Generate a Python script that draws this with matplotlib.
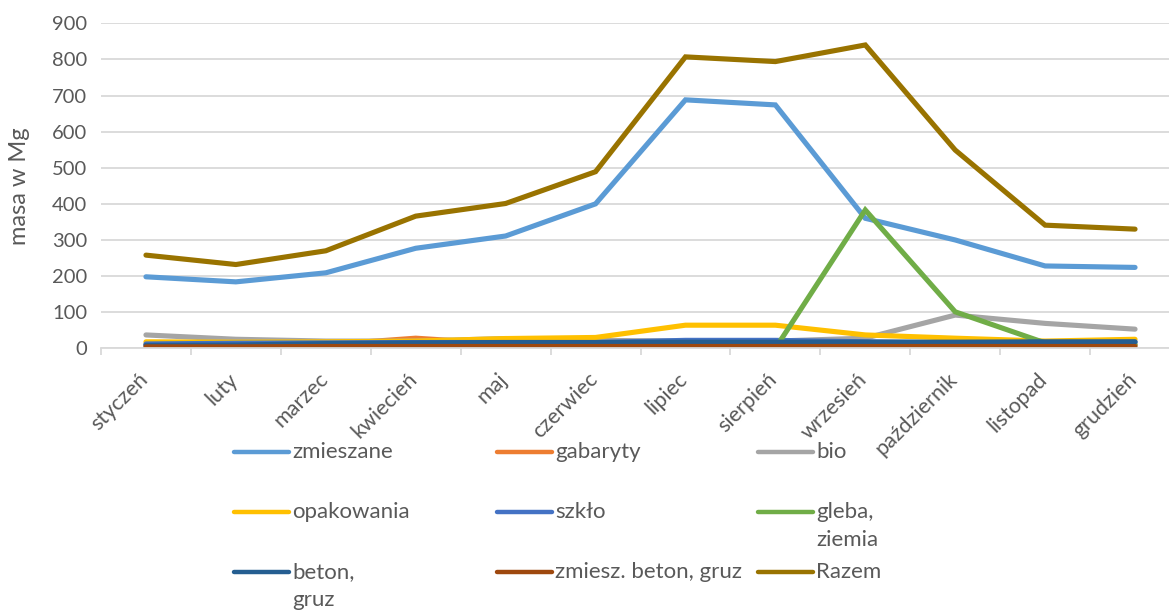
import matplotlib
matplotlib.use('Agg')
import matplotlib.pyplot as plt
import matplotlib.transforms as mtransforms
from matplotlib.lines import Line2D
import numpy as np

plt.rcParams['font.family'] = ['Lato', 'DejaVu Sans']

# dane
months = ['styczeń', 'luty', 'marzec', 'kwiecień', 'maj', 'czerwiec', 'lipiec',
          'sierpień', 'wrzesień', 'październik', 'listopad', 'grudzień']
zmieszane = [198, 184, 209, 277, 311, 400, 688, 674, 360, 300, 228, 224]
gabaryty = [10, 8, 10, 28, 12, 10, 10, 10, 10, 8, 8, 10]
bio = [37, 25, 20, 20, 27, 22, 20, 20, 28, 92, 69, 53]
opakowania = [18, 17, 18, 20, 27, 30, 64, 64, 37, 28, 20, 25]
szklo = [12, 14, 15, 16, 16, 16, 22, 22, 18, 15, 15, 17]
gleba = [0, 0, 0, 0, 0, 0, 0, 0, 383, 101, 15, 10]
beton = [8, 9, 13, 15, 16, 16, 17, 17, 17, 17, 18, 18]
zmiesz_beton = [4, 4, 5, 5, 5, 5, 5, 5, 5, 5, 5, 5]
razem = [258, 232, 270, 366, 401, 489, 807, 794, 840, 549, 341, 330]

series = [
    ('zmieszane', zmieszane, '#5B9BD5'),
    ('gabaryty', gabaryty, '#ED7D31'),
    ('bio', bio, '#A5A5A5'),
    ('opakowania', opakowania, '#FFC000'),
    ('szkło', szklo, '#4472C4'),
    ('gleba,\nziemia', gleba, '#70AD47'),
    ('beton,\ngruz', beton, '#255E91'),
    ('zmiesz. beton, gruz', zmiesz_beton, '#9E480E'),
    ('Razem', razem, '#997300'),
]

W, H = 1169, 610
fig = plt.figure(figsize=(W / 100, H / 100), dpi=100)
ax = fig.add_axes([101 / W, (H - 348.3) / H, 1079 / W, 325 / H])

x = np.arange(len(months))
for name, vals, col in series:
    ax.plot(x, vals, color=col, lw=3.7, solid_capstyle='round', solid_joinstyle='miter')

ax.set_xlim(-0.5, 11.5)
ax.set_ylim(0, 900)
ax.set_yticks(range(0, 901, 100))
ax.grid(axis='y', color='#D9D9D9', lw=1.3)
ax.set_axisbelow(True)
for s in ['top', 'right', 'left']:
    ax.spines[s].set_visible(False)
ax.spines['bottom'].set_color('#D9D9D9')
ax.spines['bottom'].set_linewidth(1.3)

ax.set_xticks(x)
ax.set_xticklabels(months, rotation=45, ha='right', va='center', rotation_mode='anchor')
ax.set_xticks(np.arange(-0.5, 12, 1), minor=True)
ax.tick_params(axis='x', which='major', length=0, pad=20, labelsize=15.5, labelcolor='#595959')
ax.tick_params(axis='x', which='minor', length=5, color='#D9D9D9', width=1.3)
ax.tick_params(axis='y', length=0, pad=10, labelsize=14.5, labelcolor='#595959')
# przesuniecie etykiet
off = mtransforms.ScaledTranslation(-1 / 100, 0, fig.dpi_scale_trans)
for lab in ax.get_xticklabels():
    lab.set_transform(lab.get_transform() + off)

ax.set_ylabel('masa w Mg', fontsize=17, color='#595959')
ax.yaxis.set_label_coords(-0.066, 0.5)

# legenda
cols = [234, 497, 758]
rows = [452, 512, 572]
for i, (name, vals, col) in enumerate(series):
    r, c = divmod(i, 3)
    x0, y0 = cols[c], rows[r]
    fig.add_artist(Line2D([x0 / W, (x0 + 55) / W], [1 - y0 / H, 1 - y0 / H],
                          color=col, lw=3.2, solid_capstyle='round'))
    fig.text((x0 + 58) / W, 1 - (y0 - 10) / H, name, fontsize=16, color='#595959',
             va='top', ha='left', linespacing=1.5)

fig.savefig('out.png', dpi=100)
